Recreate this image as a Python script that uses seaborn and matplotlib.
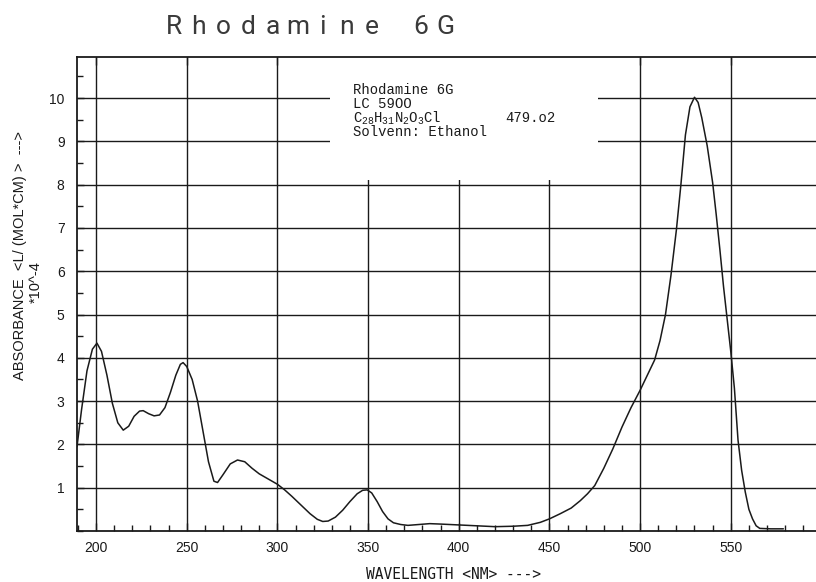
import numpy as np
import pandas as pd
import matplotlib
matplotlib.use("Agg")
import matplotlib.pyplot as plt
from matplotlib.patches import Rectangle
from matplotlib.ticker import MultipleLocator, FixedLocator
import seaborn as sns

# spectrum (nm, absorbance * 10^-4)
wavelength = [189.5, 192, 195, 198, 200.5, 203, 206, 209, 212, 215, 218, 221, 224, 226,
              229, 232, 235, 238, 241, 244, 246.5, 248, 250, 253, 256, 259, 262, 265,
              267, 270, 274, 278, 282, 286, 290, 295, 300, 304, 308, 313, 318, 322, 325,
              328, 332, 336, 340, 344, 347, 349.5, 352, 355, 358, 361, 364, 368, 372,
              378, 384, 390, 400, 410, 420, 430, 438, 445, 450, 456, 462, 467, 471, 475,
              480, 485, 490, 495, 500, 504, 508, 511, 514, 517, 520, 522.5, 525, 527.5,
              530, 532, 534, 537, 540, 542, 544, 546, 548, 550, 552, 554, 556, 558, 560,
              562, 564, 566, 572, 579]
absorbance = [1.95, 2.8, 3.7, 4.2, 4.34, 4.15, 3.6, 2.95, 2.5, 2.33, 2.42, 2.65, 2.77, 2.78,
              2.71, 2.66, 2.68, 2.85, 3.2, 3.6, 3.85, 3.89, 3.8, 3.5, 3.0, 2.3, 1.6, 1.15,
              1.12, 1.3, 1.55, 1.64, 1.6, 1.45, 1.32, 1.2, 1.08, 0.95, 0.8, 0.6, 0.4, 0.27, 0.22,
              0.23, 0.32, 0.48, 0.68, 0.86, 0.94, 0.95, 0.88, 0.68, 0.45, 0.28, 0.19, 0.15, 0.13,
              0.15, 0.17, 0.16, 0.14, 0.12, 0.10, 0.11, 0.13, 0.2, 0.28, 0.40, 0.53, 0.70, 0.86, 1.05,
              1.45, 1.9, 2.4, 2.85, 3.25, 3.6, 3.95, 4.4, 5.0, 5.9, 6.95, 8.0, 9.15, 9.8,
              10.02, 9.9, 9.55, 8.9, 8.05, 7.3, 6.5, 5.65, 4.9, 4.15, 3.3, 2.1, 1.4, 0.9, 0.5,
              0.28, 0.12, 0.06, 0.05, 0.05]

x_ticks = [200, 250, 300, 350, 400, 450, 500, 550]
y_ticks = [1, 2, 3, 4, 5, 6, 7, 8, 9, 10]

title = "Rhodamine 6G"
info_lines = ["Rhodamine 6G", "LC 59OO",
              r"C$_{28}$H$_{31}$N$_{2}$O$_{3}$Cl", "Solvenn: Ethanol"]
mol_weight = "479.o2"

df = pd.DataFrame({"nm": wavelength, "abs": absorbance})

sns.set_style("ticks")
plt.rcParams["font.family"] = ["Liberation Sans", "DejaVu Sans"]
plt.rcParams["mathtext.fontset"] = "custom"
plt.rcParams["mathtext.rm"] = "Liberation Mono"
plt.rcParams["mathtext.it"] = "Liberation Mono"

ink = "#1a1a1a"
fig = plt.figure(figsize=(8.16, 5.82), dpi=100)
ax = fig.add_axes([77 / 816, 1 - 531 / 582, 1 - 77 / 816, (531 - 57) / 582])

sns.lineplot(data=df, x="nm", y="abs", sort=False, estimator=None,
             color=ink, lw=1.1, ax=ax, zorder=3)

ax.set_xlim(189.5, 597)
ax.set_ylim(0, 10.95)

ax.xaxis.set_major_locator(FixedLocator(x_ticks))
ax.xaxis.set_minor_locator(MultipleLocator(10))
ax.yaxis.set_major_locator(FixedLocator(y_ticks))
ax.yaxis.set_minor_locator(MultipleLocator(0.5))

ax.set_axisbelow(True)
ax.grid(which="major", color=ink, lw=1.0)

# white label box hides part of the grid
ax.add_patch(Rectangle((329, 8.1), 147.7, 3.0, facecolor="white",
                       edgecolor="none", zorder=1))

for s in ["left", "bottom", "top"]:
    ax.spines[s].set_visible(True)
    ax.spines[s].set_color(ink)
    ax.spines[s].set_linewidth(1.3)
ax.spines["right"].set_visible(False)

ax.tick_params(axis="x", which="major", direction="in", length=6, width=1,
               top=True, bottom=True, color=ink, labelsize=10, pad=7, labelcolor=ink)
ax.tick_params(axis="x", which="minor", direction="in", length=4, width=1,
               top=False, bottom=True, color=ink)
ax.tick_params(axis="y", which="major", direction="in", length=5, width=1,
               left=True, right=False, color=ink, labelsize=10, pad=9, labelcolor=ink)
ax.tick_params(axis="y", which="minor", direction="in", length=4, width=1,
               left=True, right=False, color=ink)

ax.set_xlabel("WAVELENGTH <NM> --->", family="DejaVu Sans Mono", fontsize=10.5, color=ink)
ax.xaxis.set_label_coords((454 - 77) / 739, -(567 - 531) / 474)
ax.set_ylabel("")

# y label: two rotated lines, second one sits a little low like the original
fig.text(20 / 816, 1 - 255 / 582, "ABSORBANCE  <L/ (MOL*CM) >  --->", rotation=90,
         fontsize=10.5, color=ink, ha="center", va="center")
fig.text(36 / 816, 1 - 282 / 582, "*10^-4", rotation=90,
         fontsize=10.5, color=ink, ha="center", va="center")

text_y = [10.18, 9.87, 9.54, 9.21]
for t, yy in zip(info_lines, text_y):
    ax.text(341.5, yy, t, family="Liberation Mono", fontsize=10, color=ink,
            va="center", ha="left", zorder=4)
ax.text(425.5, 9.54, mol_weight, family="Liberation Mono", fontsize=10, color=ink,
        va="center", ha="left", zorder=4)

# plotter-style title: wide letter spacing, one glyph per slot
for i, ch in enumerate(title):
    fig.text((174 + i * 24.7) / 816, 1 - 27 / 582, ch, family=["Roboto", "DejaVu Sans"],
             fontsize=19, color="#3a3a3a", va="center", ha="center")

fig.savefig("out.png", dpi=100)
